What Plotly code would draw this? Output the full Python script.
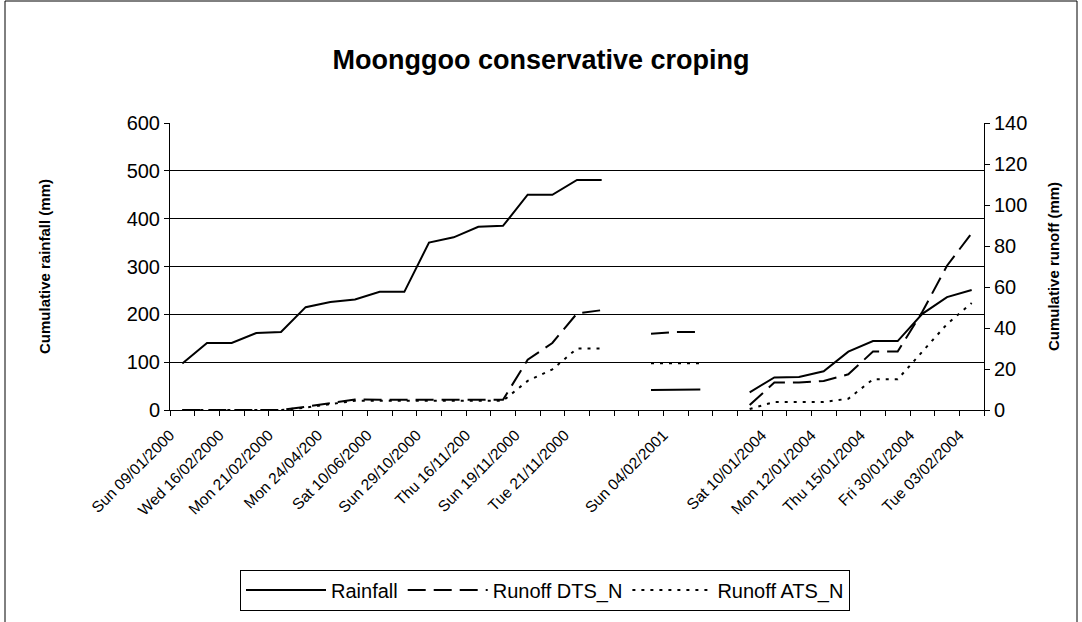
import plotly.graph_objects as go

# ---- data ----
n_categories = 33
tick_label_map = {
    0: "Sun 09/01/2000", 2: "Wed 16/02/2000", 4: "Mon 21/02/2000",
    6: "Mon 24/04/200", 8: "Sat 10/06/2000", 10: "Sun 29/10/2000",
    12: "Thu 16/11/200", 14: "Sun 19/11/2000", 16: "Tue 21/11/2000",
    20: "Sun 04/02/2001", 24: "Sat 10/01/2004", 26: "Mon 12/01/2004",
    28: "Thu 15/01/2004", 30: "Fri 30/01/2004", 32: "Tue 03/02/2004",
}
rainfall = [97, 140, 140, 161, 163, 215, 226, 231, 247, 247, 350, 361, 383, 385,
            450, 450, 481, 481, None, 42, 43, 43, None,
            37, 68, 69, 81, 122, 144, 144, 201, 236, 251]
runoff_dts = [0, 0, 0, 0, 0, 1.6, 3.2, 5.1, 5, 5, 5, 5, 5, 5,
              24.5, 32.7, 47.1, 48.7, None, 37.2, 38, 38, None,
              2.4, 13.4, 13.4, 14.2, 17.4, 28.5, 28.5, 47.9, 70.4, 86.2]
runoff_ats = [0, 0, 0, 0, 0, 1.2, 3, 4.5, 4.5, 4.5, 4.5, 4.5, 4.5, 4.5,
              14.2, 19.8, 30, 30, None, 22.8, 22.8, 22.8, None,
              0.5, 3.9, 3.9, 3.9, 5.5, 15, 15, 28.5, 41.9, 52.2]

x = list(range(n_categories))
boundaries = [k - 0.5 for k in range(n_categories + 1)]
boundary_text = [tick_label_map.get(k, "") for k in range(n_categories + 1)]

FONT = "Liberation Sans, Arial, sans-serif"

fig = go.Figure()
fig.add_trace(go.Scatter(x=x, y=rainfall, name="Rainfall", mode="lines",
                         line=dict(color="black", width=2), connectgaps=False))
fig.add_trace(go.Scatter(x=x, y=runoff_dts, name="Runoff DTS_N", mode="lines",
                         line=dict(color="black", width=2, dash="18px,8px"),
                         yaxis="y2", connectgaps=False))
fig.add_trace(go.Scatter(x=x, y=runoff_ats, name="Runoff ATS_N", mode="lines",
                         line=dict(color="black", width=2, dash="3px,6px"),
                         yaxis="y2", connectgaps=False))

fig.update_layout(
    width=1082, height=622,
    margin=dict(l=170, r=98, t=123, b=204),
    paper_bgcolor="white", plot_bgcolor="white",
    font=dict(family=FONT, color="black", size=20),
    title=dict(text="<b>Moonggoo conservative croping</b>", x=0.5, xref="container",
               xanchor="center", y=1 - 60 / 622, yanchor="middle",
               font=dict(size=27, family=FONT, color="black")),
    xaxis=dict(range=[-0.5, 32.5], tickmode="array", tickvals=boundaries,
               ticktext=boundary_text, tickangle=-45, ticks="outside",
               ticklen=5, tickcolor="black", showline=True, linecolor="black",
               linewidth=1, showgrid=False, zeroline=False,
               ticklabelstandoff=4,
               tickfont=dict(size=15.5, family=FONT)),
    yaxis=dict(range=[0, 600], dtick=100, ticks="outside", ticklen=5,
               tickcolor="black", showline=True, linecolor="black", linewidth=1,
               showgrid=True, gridcolor="black", gridwidth=1, zeroline=False,
               tickfont=dict(size=20, family=FONT),
               title=dict(text="<b>Cumulative rainfall (mm)</b>",
                          font=dict(size=15, family=FONT), standoff=72)),
    yaxis2=dict(range=[0, 140], dtick=20, overlaying="y", side="right",
                ticks="outside", ticklen=5, tickcolor="black", showline=True,
                linecolor="black", linewidth=1, showgrid=False, zeroline=False,
                tickfont=dict(size=20, family=FONT),
                title=dict(text="<b>Cumulative runoff (mm)</b>",
                           font=dict(size=15, family=FONT), standoff=22)),
    legend=dict(orientation="h", x=(545 - 170) / 814, xanchor="center",
                y=(418 - 582) / 295, yanchor="top", bordercolor="black",
                borderwidth=1, bgcolor="white", font=dict(size=20, family=FONT),
                itemwidth=80, tracegroupgap=0),
    showlegend=True,
)

# outer chart border
fig.add_shape(type="rect", xref="paper", yref="paper",
              xsizemode="pixel", ysizemode="pixel", xanchor=0, yanchor=0,
              x0=5 - 170, x1=1077 - 170, y0=418 - 650, y1=418 - 9,
              line=dict(color="black", width=1), fillcolor="rgba(0,0,0,0)",
              layer="below")

fig.write_html("out.html", post_script="document.body.style.margin='0';",
               config={"displayModeBar": False})
